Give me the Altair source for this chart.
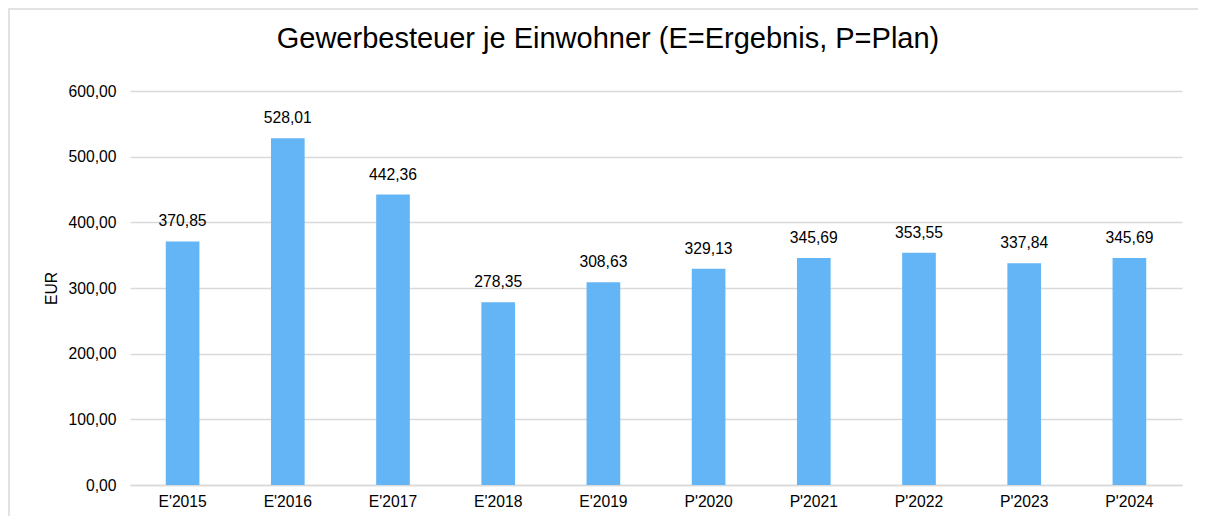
import altair as alt
import pandas as pd

title_text = "Gewerbesteuer je Einwohner (E=Ergebnis, P=Plan)"
categories = ["E'2015", "E'2016", "E'2017", "E'2018", "E'2019",
              "P'2020", "P'2021", "P'2022", "P'2023", "P'2024"]
values = [370.85, 528.01, 442.36, 278.35, 308.63,
          329.13, 345.69, 353.55, 337.84, 345.69]
y_ticks = [0, 100, 200, 300, 400, 500, 600]

df = pd.DataFrame({"Jahr": categories, "Wert": values})

FONT = "Liberation Sans"
FS = 15.7
W, H = 1052, 394

base = alt.Chart(df).encode(
    x=alt.X("Jahr:N", sort=categories,
            scale=alt.Scale(paddingInner=0.68, paddingOuter=0.34),
            axis=alt.Axis(title=None, labelAngle=0, labelFontSize=FS,
                          labelFont=FONT, labelColor="#000000",
                          labelPadding=9, ticks=False, domain=True,
                          domainColor="#D9D9D9", domainWidth=1.5)),
)

bars = base.mark_bar(color="#64B5F6").encode(
    y=alt.Y("Wert:Q", scale=alt.Scale(domain=[0, 600], nice=False),
            axis=alt.Axis(title="EUR", values=y_ticks, titleFont=FONT,
                          titleFontSize=FS, titleFontWeight="normal",
                          titleColor="#000000", titlePadding=9,
                          labelExpr="replace(format(datum.value, '.2f'), '.', ',')",
                          labelFont=FONT, labelFontSize=FS, labelColor="#000000",
                          labelPadding=14, ticks=False, domain=False,
                          grid=True, gridColor="#D9D9D9", gridWidth=1.5))
)

labels = base.transform_calculate(
    txt="replace(format(datum.Wert, '.2f'), '.', ',')"
).mark_text(baseline="bottom", dy=-12, font=FONT, fontSize=FS,
            color="#000000").encode(
    y=alt.Y("Wert:Q"),
    text="txt:N",
)

border = alt.Chart(pd.DataFrame({"a": [0]})).mark_rect(
    fill=None, stroke="#D9D9D9", strokeWidth=1.5
).encode(
    x=alt.value(-121), x2=alt.value(1200),
    y=alt.value(-82), y2=alt.value(600),
)

title = alt.Chart(pd.DataFrame({"t": [title_text]})).mark_text(
    font=FONT, fontSize=29, fontWeight="normal", color="#000000",
    align="center", baseline="alphabetic"
).encode(
    x=alt.value(478), y=alt.value(-43), text="t:N",
)

chart = alt.layer(border, bars, labels, title).properties(
    width=W, height=H,
    autosize=alt.AutoSizeParams(type="none"),
    padding={"left": 122, "top": 83, "right": 16, "bottom": 31},
).configure_view(stroke=None)

chart.save("out.html", embed_options={"renderer": "svg", "actions": False})
